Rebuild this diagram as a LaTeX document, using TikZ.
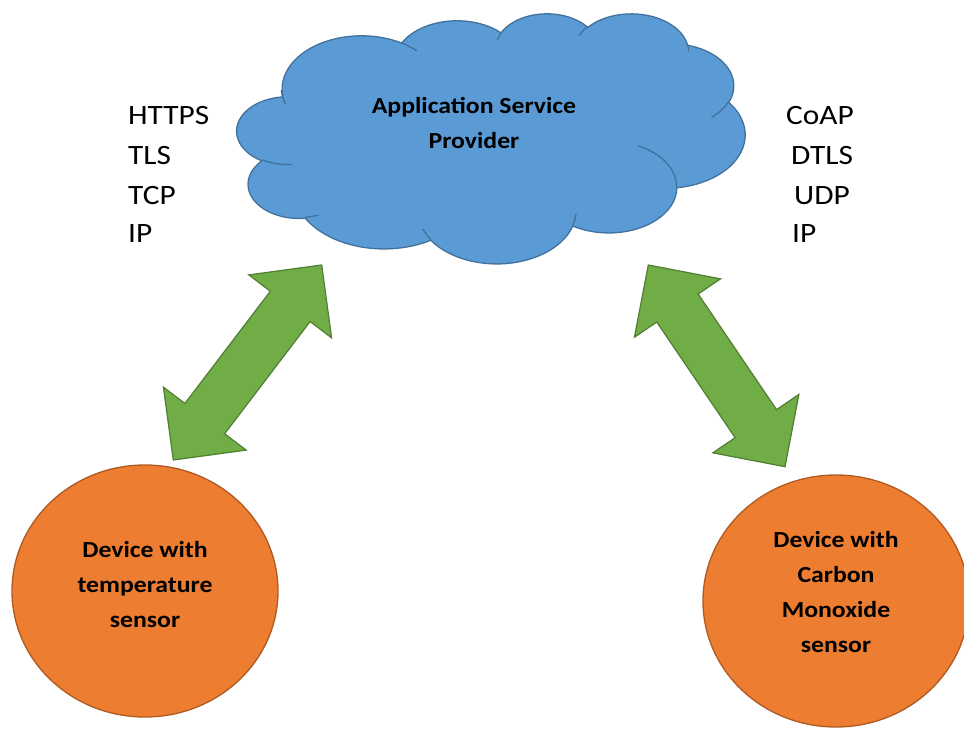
\documentclass[tikz,border=0pt]{standalone}
\usepackage{fontspec}
\setmainfont{Carlito}[FakeStretch=1.12]
\usetikzlibrary{calc,shapes.geometric}
\definecolor{cldfill}{HTML}{5B9BD5}
\definecolor{cldline}{HTML}{41719C}
\definecolor{devfill}{HTML}{ED7D31}
\definecolor{devline}{HTML}{AE5A21}
\definecolor{arrfill}{HTML}{70AD47}
\definecolor{arrline}{HTML}{507E32}
\def\cldsx{1.17593}
\def\cldsy{0.5787}
\newcommand\cldarc[4]{%
  \pgfextra{%
    \pgfmathsetmacro\cldA{#3}%
    \pgfmathsetmacro\cldB{#3+#4}%
    \pgfmathsetmacro\cldtA{atan2(#1*sin(\cldA),#2*cos(\cldA))}%
    \pgfmathsetmacro\cldtA{\cldtA-360*round((\cldtA-\cldA)/360)}%
    \pgfmathsetmacro\cldtB{atan2(#1*sin(\cldB),#2*cos(\cldB))}%
    \pgfmathsetmacro\cldtB{\cldtB-360*round((\cldtB-\cldB)/360)}%
    \pgfmathsetmacro\cldnA{0-(\cldtA)}%
    \pgfmathsetmacro\cldnB{0-(\cldtB)}%
    \pgfmathsetmacro\cldrx{#1*\cldsx}%
    \pgfmathsetmacro\cldry{#2*\cldsy}%
    \xdef\cldS{\cldnA}\xdef\cldE{\cldnB}\xdef\cldX{\cldrx}\xdef\cldY{\cldry}%
  }%
  arc[x radius=\cldX pt, y radius=\cldY pt, start angle=\cldS, end angle=\cldE]%
}
\newcommand\dblarr[2]{%
  \draw[arrowshape] (#1) -- ($(#1)!52pt!(#2)!52pt!90:(#2)$) -- ($(#1)!52pt!(#2)!25pt!90:(#2)$)
   -- ($(#2)!52pt!(#1)!25pt!-90:(#1)$) -- ($(#2)!52pt!(#1)!52pt!-90:(#1)$) -- (#2)
   -- ($(#2)!52pt!(#1)!52pt!90:(#1)$) -- ($(#2)!52pt!(#1)!25pt!90:(#1)$)
   -- ($(#1)!52pt!(#2)!25pt!-90:(#2)$) -- ($(#1)!52pt!(#2)!52pt!-90:(#2)$) -- cycle;}
\begin{document}
\begin{tikzpicture}[x=1pt,y=-1pt,
  lbl/.style={font=\fontsize{28}{34}\selectfont, anchor=base west, inner sep=0pt},
  boldtxt/.style={font=\fontsize{23}{35}\selectfont\bfseries, align=center, inner sep=0pt},
  dev/.style={ellipse, draw=devline, fill=devfill, line width=1.3pt, minimum width=266pt, minimum height=252pt, inner sep=0pt},
  arrowshape/.style={draw=arrline, fill=arrfill, line width=1.2pt, line join=miter},
  cloudsty/.style={draw=cldline, fill=cldfill, line width=1.3pt},
  cldin/.style={draw=cldline, line width=1.3pt}]
\fill[white] (0,0) rectangle (964,730);
\useasboundingbox (0,0) rectangle (964,730);
% cloud
\begin{scope}[shift={(237,13)}, x=1.17593pt, y=-0.5787pt]
\path[cloudsty] (39.00,143.70)
  \cldarc{67.53}{91.90}{-190.4875}{123.7805}
  \cldarc{53.33}{72.67}{-144.1024}{89.9452}
  \cldarc{43.65}{59.45}{-145.8079}{99.7230}
  \cldarc{48.57}{65.95}{-130.9861}{117.2417}
  \cldarc{53.33}{72.73}{-78.7089}{109.0269}
  \cldarc{67.75}{92.20}{-46.2673}{130.2690}
  \cldarc{57.85}{78.67}{0.6250}{114.0333}
  \cldarc{67.52}{92.15}{22.4516}{115.1726}
  \cldarc{77.20}{105.43}{66.2426}{75.7110}
  \cldarc{43.60}{59.18}{-274.9421}{146.7356}
  \cldarc{43.45}{59.45}{-246.8285}{152.5189}
  -- cycle;
\path[cldin]
  (46.93,261.77) \cldarc{43.45}{59.45}{86.7420}{26.4295}
  (69.28,348.99) \cldarc{43.60}{59.18}{73.6105}{11.4475}
  (164.78,390.90) \cldarc{67.52}{92.15}{137.6242}{14.0811}
  (288.27,347.51) \cldarc{67.52}{92.15}{6.4533}{15.9984}
  (341.29,229.54) \cldarc{57.85}{78.67}{-70.2924}{70.9174}
  (417.98,153.54) \cldarc{53.33}{72.73}{30.3180}{27.7515}
  (383.24,54.26) \cldarc{48.57}{65.95}{-13.7443}{14.8589}
  (290.78,39.52) \cldarc{48.57}{65.95}{-149.1815}{18.1954}
  (221.41,47.20) \cldarc{43.65}{59.45}{-163.4943}{17.6864}
  (140.00,51.92) \cldarc{67.53}{91.90}{-66.7070}{12.3194}
  (41.27,157.89) \cldarc{67.53}{91.90}{154.8175}{20.5978};
\end{scope}
\node[boldtxt] (asp) at (474,123) {Application Service\\Provider};
% protocol stacks
\node[lbl] (l1) at (128,125) {HTTPS};
\node[lbl] (l2) at (128,165) {TLS};
\node[lbl] (l3) at (128,205) {TCP};
\node[lbl] (l4) at (128,243) {IP};
\node[lbl] (r1) at (786,125) {CoAP};
\node[lbl] (r2) at (791,165) {DTLS};
\node[lbl] (r3) at (794,205) {UDP};
\node[lbl] (r4) at (792,243) {IP};
% devices
\node[dev] (d1) at (145,591) {};
\node[dev] (d2) at (836,601) {};
\node[boldtxt] (d1t) at ($(d1.center)+(0,-6)$) {Device with\\temperature\\sensor};
\node[boldtxt] (d2t) at ($(d2.center)+(0,-9)$) {Device with\\Carbon\\Monoxide\\sensor};
% arrows
\coordinate (t1a) at (173.3,460);
\coordinate (t1b) at (321.7,265);
\coordinate (t2a) at (648.3,265);
\coordinate (t2b) at (785,466.7);
\dblarr{t1a}{t1b}
\dblarr{t2a}{t2b}
\end{tikzpicture}
\end{document}
